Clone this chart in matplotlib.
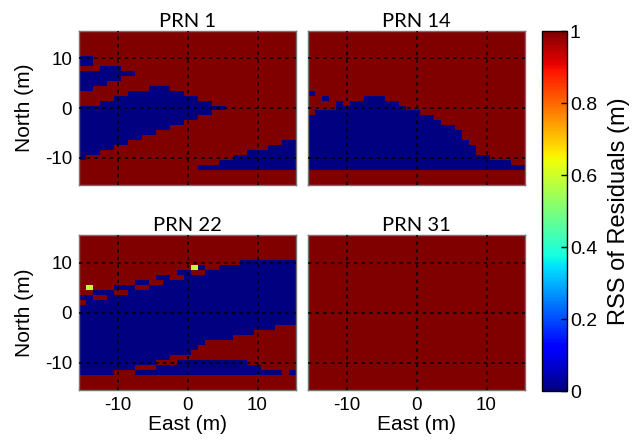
import numpy as np
import matplotlib
matplotlib.use("Agg")
import matplotlib.pyplot as plt

plt.rcParams['font.family'] = ['Liberation Sans', 'DejaVu Sans']
plt.rcParams['axes.unicode_minus'] = False

# grid: 1 m cells, east / north from -15 to 15
east = np.arange(-15, 16)
north = np.arange(-15, 16)

titles = ["PRN 1", "PRN 14", "PRN 22", "PRN 31"]

# PRN 1 -- main wedge, columns east -15..5 (top / bottom north of blue)
prn1_main_top = [0, 0, 0, 1, 1, 2, 2, 3, 3, 3, 4, 4, 4, 3, 3, 2, 2, 1, 1, 0, 0]
prn1_main_bot = [-10, -9, -9, -8, -8, -7, -7, -6, -6, -5, -5, -4, -4, -3, -3, -2, -2, -1, -1, 0, 0]
# upper blue patches (east, north_low, north_high)
prn1_upper = [(-15, 9, 10), (-14, 9, 10), (-15, 4, 7), (-14, 4, 7), (-13, 5, 7),
              (-12, 5, 8), (-11, 6, 8), (-10, 6, 8), (-9, 7, 7), (-8, 7, 7)]
# lower right block, columns east 2..15, bottom at -12
prn1_low_top = [-12, -12, -12, -11, -11, -10, -10, -9, -9, -9, -8, -8, -7, -7]

# PRN 14 -- top of blue per column east -15..15, bottom at -12
prn14_top = [-2, -1, -1, -1, 1, 0, 1, 1, 2, 2, 2, 1, 1, 0, -1, -1, -2, -2, -3,
             -4, -4, -5, -7, -8, -10, -10, -11, -11, -11, -12, -12]
prn14_spots = [(-15, 3), (-13, 2)]

# PRN 22 -- blue runs per north row: (north, east_from, east_to)
prn22_blue = [(10, 8, 15), (9, 2, 2), (9, 5, 15), (8, -1, 0), (8, 3, 15),
              (7, -4, -3), (7, 0, 15), (6, -7, -6), (6, -3, 15),
              (5, -10, -8), (5, -5, 15), (4, -13, -11), (4, -8, 15),
              (3, -15, -14), (3, -11, 15), (2, -14, 15),
              (1, -15, 15), (0, -15, 15), (-1, -15, 15), (-2, -15, 15),
              (-3, -15, 12), (-4, -15, 9), (-5, -15, 6), (-6, -15, 2),
              (-7, -15, 1), (-8, -15, 0), (-9, -15, -3),
              (-10, -15, -5), (-10, -1, 8), (-11, -15, -8), (-11, -4, 10),
              (-12, -15, -11), (-12, -7, 13), (-12, 15, 15)]
prn22_spots = [(-14, 5, 0.58), (1, 9, 0.58)]


def blank():
    return np.ones((len(north), len(east)))


def put(z, e, n, v=0.0):
    z[n + 15, e + 15] = v


z1 = blank()
for i, (t, b) in enumerate(zip(prn1_main_top, prn1_main_bot)):
    for n in range(b, t + 1):
        put(z1, -15 + i, n)
for e, lo, hi in prn1_upper:
    for n in range(lo, hi + 1):
        put(z1, e, n)
for i, t in enumerate(prn1_low_top):
    for n in range(-12, t + 1):
        put(z1, 2 + i, n)

z14 = blank()
for i, t in enumerate(prn14_top):
    for n in range(-12, t + 1):
        put(z14, -15 + i, n)
for e, n in prn14_spots:
    put(z14, e, n)

z22 = blank()
for n, e0, e1 in prn22_blue:
    for e in range(e0, e1 + 1):
        put(z22, e, n)
for e, n, v in prn22_spots:
    put(z22, e, n, v)

z31 = blank()

edges = np.arange(-15.5, 16.5, 1.0)

W, H = 633, 442
fig = plt.figure(figsize=(W / 100, H / 100), dpi=100)
boxes = [(79, 31, 217, 154), (308, 31, 217, 154),
         (79, 235, 217, 155), (308, 235, 217, 155)]

for k, (z, title, (x0, y0, w, h)) in enumerate(zip([z1, z14, z22, z31], titles, boxes)):
    ax = fig.add_axes([x0 / W, 1 - (y0 + h) / H, w / W, h / H])
    mesh = ax.pcolormesh(edges, edges, z, cmap='jet', vmin=0, vmax=1)
    ax.set_xlim(-15.5, 15.5)
    ax.set_ylim(-15.5, 15.5)
    ax.set_xticks([-10, 0, 10])
    ax.set_yticks([-10, 0, 10])
    ax.set_axisbelow(False)
    ax.grid(True, color='k', linestyle=(0, (2.2, 2.8)), linewidth=1.1)
    ax.tick_params(direction='in', length=0, labelsize=13.5, pad=5)
    for s in ax.spines.values():
        s.set_color('0.45')
        s.set_linewidth(1.0)
    ax.set_title(title, family=['Lato', 'DejaVu Sans'], fontsize=14.5, pad=3)
    if k < 2:
        ax.set_xticklabels([])
    else:
        ax.set_xlabel("East (m)", fontsize=15, labelpad=1)
    if k % 2 == 1:
        ax.set_yticklabels([])
    else:
        ax.set_ylabel("North (m)", fontsize=15, labelpad=8)

cax = fig.add_axes([542 / W, 1 - 391 / H, 25 / W, 360 / H])
cb = fig.colorbar(mesh, cax=cax, ticks=[0, 0.2, 0.4, 0.6, 0.8, 1])
cb.ax.set_yticklabels(["0", "0.2", "0.4", "0.6", "0.8", "1"])
cb.ax.tick_params(direction='in', length=4, width=1, labelsize=14, pad=2)
cb.outline.set_linewidth(1.0)
cb.set_label("RSS of Residuals (m)", fontsize=17, labelpad=8)

fig.savefig("out.png", dpi=100)
